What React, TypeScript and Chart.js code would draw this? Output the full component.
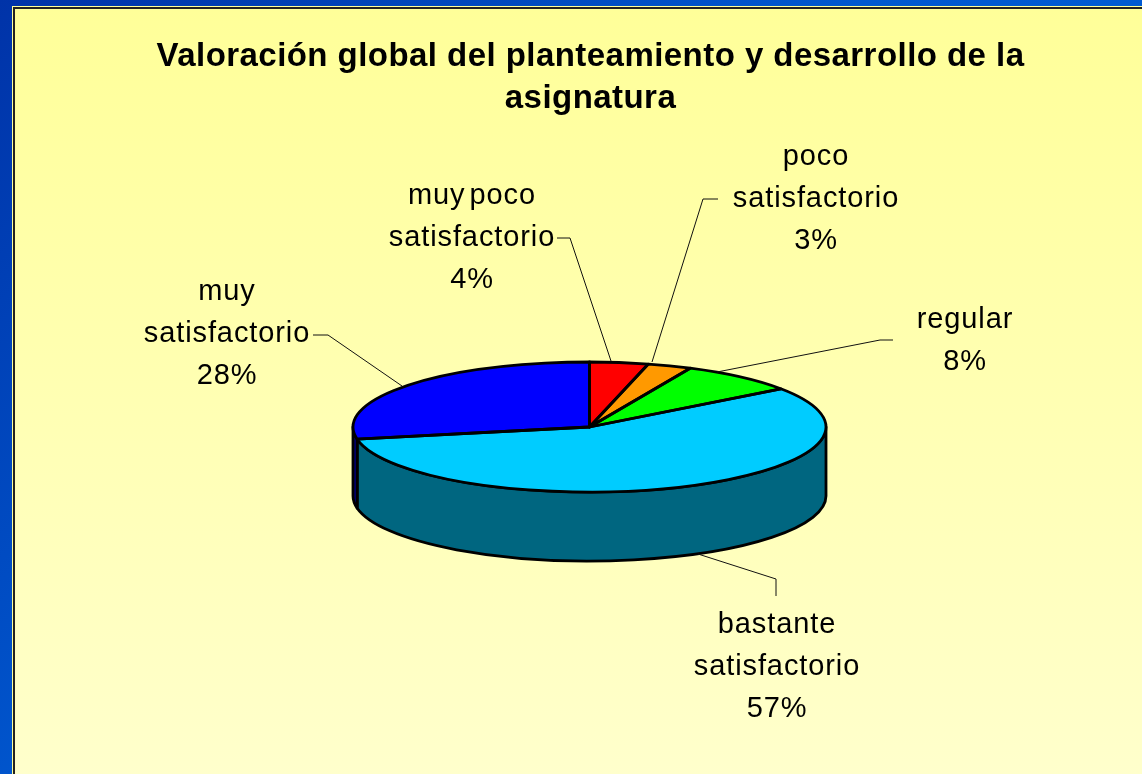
import React, { useEffect, useRef } from "react";
import { Chart, registerables } from "chart.js";

Chart.register(...registerables);

const titleLines = ["Valoración global del planteamiento y desarrollo de la", "asignatura"];
const categories = ["muy poco satisfactorio", "poco satisfactorio", "regular", "bastante satisfactorio", "muy satisfactorio"];
const seriesValues = [4, 3, 8, 57, 28];
const topColors = ["#FF0000", "#FF9900", "#00FF00", "#00CCFF", "#0000FF"];
const sideColors = ["#800000", "#804D00", "#008000", "#006680", "#000080"];
const labelLines = [
  ["muy poco", "satisfactorio"],
  ["poco", "satisfactorio"],
  ["regular"],
  ["bastante", "satisfactorio"],
  ["muy", "satisfactorio"],
];

// Layout of the callouts (not data): centre x, first baseline, leader polyline
const calloutLayout = [
  { x: 472, y: 204, leader: [[557, 238], [570, 238], [611, 361]] },
  { x: 816, y: 165, leader: [[718, 199], [703, 199], [652, 362]] },
  { x: 965, y: 328, leader: [[893, 340], [880, 340], [717, 372]] },
  { x: 777, y: 633, leader: [[776, 596], [776, 579], [698, 554]] },
  { x: 227, y: 300, leader: [[313, 335], [328, 335], [402, 386]] },
];

const W = 1142;
const H = 774;
const CX = 589.5;
const CY = 427;
const RX = 236.5;
const RY = 65;
const DEPTH = 69;
const TITLE_TOP = 36;
const TITLE_SIZE = 33;
const LABEL_FONT = '29px "Liberation Sans", Arial, sans-serif';
const LABEL_SPACING = "0.9px";
const LINE_H = 42;

const pie3d = {
  id: "pie3d",
  afterLayout(chart: any) {
    // the title may run wider than the pie's square plot area
    if (chart.titleBlock) {
      chart.titleBlock.left = 0;
      chart.titleBlock.right = 2 * 590.5;
    }
  },
  beforeDraw(chart: any) {
    (chart.ctx as any).letterSpacing = "0.45px";
  },
  beforeDatasetsDraw(chart: any) {
    const ctx = chart.ctx;
    const arcs = chart.getDatasetMeta(0).data;
    ctx.save();
    ctx.lineWidth = 2.8;
    ctx.strokeStyle = "#000";
    ctx.lineJoin = "round";
    arcs.forEach((arc: any, i: number) => {
      const p = arc.getProps(["x", "y", "startAngle", "endAngle", "outerRadius"], true);
      const a = Math.max(p.startAngle, 0);
      const b = Math.min(p.endAngle, Math.PI);
      if (b <= a) return;
      const ry = p.outerRadius * (RY / RX);
      ctx.beginPath();
      ctx.ellipse(p.x, p.y, p.outerRadius, ry, 0, a, b);
      ctx.ellipse(p.x, p.y + DEPTH, p.outerRadius, ry, 0, b, a, true);
      ctx.closePath();
      ctx.fillStyle = sideColors[i];
      ctx.fill();
      ctx.stroke();
    });
    ctx.restore();
    ctx.save();
    ctx.translate(CX, CY);
    ctx.scale(1, RY / RX);
    ctx.translate(-CX, -CY);
  },
  afterDatasetsDraw(chart: any) {
    const ctx = chart.ctx;
    ctx.restore();
    const arcs = chart.getDatasetMeta(0).data;
    ctx.save();
    ctx.lineWidth = 2.8;
    ctx.strokeStyle = "#000";
    ctx.lineJoin = "round";
    arcs.forEach((arc: any) => {
      const p = arc.getProps(["x", "y", "startAngle", "endAngle", "outerRadius"], true);
      const ry = p.outerRadius * (RY / RX);
      ctx.beginPath();
      ctx.moveTo(p.x, p.y);
      ctx.ellipse(p.x, p.y, p.outerRadius, ry, 0, p.startAngle, p.endAngle);
      ctx.closePath();
      ctx.stroke();
    });
    // callouts
    ctx.lineWidth = 1;
    ctx.strokeStyle = "#111";
    calloutLayout.forEach((c) => {
      ctx.beginPath();
      c.leader.forEach(([x, y], k) => (k ? ctx.lineTo(x, y) : ctx.moveTo(x, y)));
      ctx.stroke();
    });
    ctx.fillStyle = "#000";
    ctx.font = LABEL_FONT;
    ctx.textAlign = "center";
    ctx.textBaseline = "alphabetic";
    (ctx as any).letterSpacing = LABEL_SPACING;
    (ctx as any).wordSpacing = "-5px";
    calloutLayout.forEach((c, i) => {
      const lines = [...labelLines[i], `${seriesValues[i]}%`];
      lines.forEach((t, k) => ctx.fillText(t, c.x, c.y + k * LINE_H));
    });
    ctx.restore();
  },
};

export default function App() {
  const ref = useRef<HTMLCanvasElement>(null);
  useEffect(() => {
    document.body.style.margin = "0";
    document.body.style.overflow = "hidden";
    const chart = new Chart(ref.current as HTMLCanvasElement, {
      type: "pie",
      data: {
        labels: categories,
        datasets: [{ data: seriesValues, backgroundColor: topColors, borderWidth: 0, clip: false } as any],
      },
      options: {
        responsive: false,
        animation: false,
        devicePixelRatio: 1,
        layout: { padding: { left: CX - RX, right: W - CX - RX, top: TITLE_TOP, bottom: H - CY - RX } },
        plugins: {
          legend: { display: false },
          tooltip: { enabled: false },
          title: {
            display: true,
            text: titleLines,
            color: "#000",
            font: { family: '"Liberation Sans", Arial, sans-serif', size: TITLE_SIZE, weight: "bold", lineHeight: 42 / TITLE_SIZE },
            padding: { top: 0, bottom: CY - RX - TITLE_TOP - 84 },
          },
        },
      } as any,
      plugins: [pie3d],
    });
    return () => chart.destroy();
  }, []);
  return (
    <div style={{ position: "fixed", left: 0, top: 0, width: W, height: H, overflow: "hidden", background: "linear-gradient(135deg, #0033A8 0%, #0058D0 45%, #0060D8 100%)" }}>
      <div style={{ position: "absolute", left: 12, top: 6, width: W, height: H, boxSizing: "border-box", border: "1px solid #FFFF99" }}>
        <div style={{ boxSizing: "border-box", width: "100%", height: "100%", border: "2px solid #222", background: "linear-gradient(180deg, #FFFF99 0%, #FFFFCC 100%)" }} />
      </div>
      <canvas ref={ref} width={W} height={H} style={{ position: "absolute", left: 0, top: 0, display: "block" }} />
    </div>
  );
}
